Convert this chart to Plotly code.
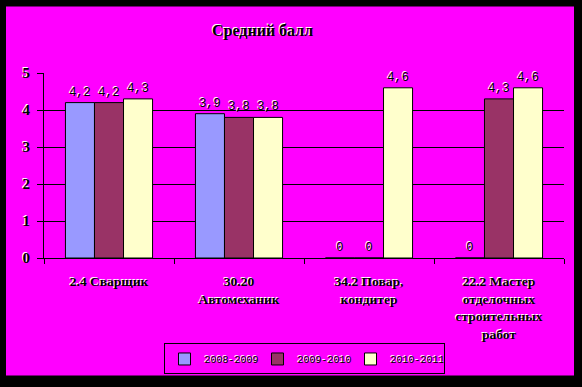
import plotly.graph_objects as go

categories = ["2.4 Сварщик", "30.20<br>Автомеханик", "34.2 Повар,<br>кондитер",
              "22.2 Мастер<br>отделочных<br>строительных<br>работ"]
series_names = ["2008-2009", "2009-2010", "2010-2011"]
values_2008 = [4.2, 3.9, 0, 0]
values_2009 = [4.2, 3.8, 0, 4.3]
values_2010 = [4.3, 3.8, 4.6, 4.6]
colors = ["#9999FF", "#993366", "#FFFFCC"]
y_ticks = [0, 1, 2, 3, 4, 5]

W, H = 582, 387
L, R, T, B = 44, 18, 73, 125
PW, PH = W - L - R, H - T - B

def px_x(x):
    return (x - L) / PW

def px_y(y):
    return (H - B - y) / PH

def fmt(v):
    return ("%g" % v).replace(".", ",")

shadow = "-1px -1px 0px #FFFFFF"

fig = go.Figure()
for name, vals, col in zip(series_names, [values_2008, values_2009, values_2010], colors):
    fig.add_trace(go.Bar(
        x=categories, y=vals, name=name,
        marker=dict(color=col, line=dict(color="black", width=1)),
        text=[fmt(v) for v in vals], textposition="outside",
        textfont=dict(family="Liberation Mono", size=12, color="black", shadow=shadow),
        cliponaxis=False,
    ))

fig.update_layout(
    width=W, height=H,
    margin=dict(l=L, r=R, t=T, b=B, pad=0),
    paper_bgcolor="black",
    plot_bgcolor="rgba(0,0,0,0)",
    barmode="group", bargap=0.33, bargroupgap=0,
    showlegend=True,
    legend=dict(orientation="h", x=px_x(304), xanchor="center", y=px_y(381), yanchor="bottom",
                bgcolor="rgba(0,0,0,0)", bordercolor="black", borderwidth=1,
                font=dict(family="Liberation Mono", size=10, color="black", shadow=shadow),
                itemwidth=30, entrywidth=48, tracegroupgap=0),
    xaxis=dict(showline=True, linecolor="black", linewidth=1, ticks="outside", ticklen=5,
               tickcolor="black", tickson="boundaries", ticklabelstandoff=11,
               tickfont=dict(family="Liberation Serif", size=13.5, color="black", weight="bold", shadow=shadow)),
    yaxis=dict(range=[0, 5], tickvals=y_ticks, showline=True, linecolor="black", linewidth=1,
               ticks="outside", ticklen=6, tickcolor="black", showgrid=True, gridcolor="black",
               gridwidth=1, zeroline=False, ticklabelstandoff=4,
               tickfont=dict(family="Liberation Serif", size=15, color="black", weight="bold", shadow=shadow)),
    annotations=[dict(text="Средний балл", xref="paper", yref="paper", x=px_x(262), y=px_y(30),
                      xanchor="center", yanchor="middle", showarrow=False,
                      font=dict(family="Liberation Serif", size=16, color="black", weight="bold", shadow=shadow))],
    shapes=[dict(type="rect", xref="paper", yref="paper", layer="below",
                 x0=px_x(6), x1=px_x(574), y0=px_y(382), y1=px_y(5),
                 fillcolor="#FF00FF", line=dict(width=0))],
)

fig.write_html("out.html", config={"displayModeBar": False},
               post_script="document.body.style.margin='0';document.body.style.padding='0';")
